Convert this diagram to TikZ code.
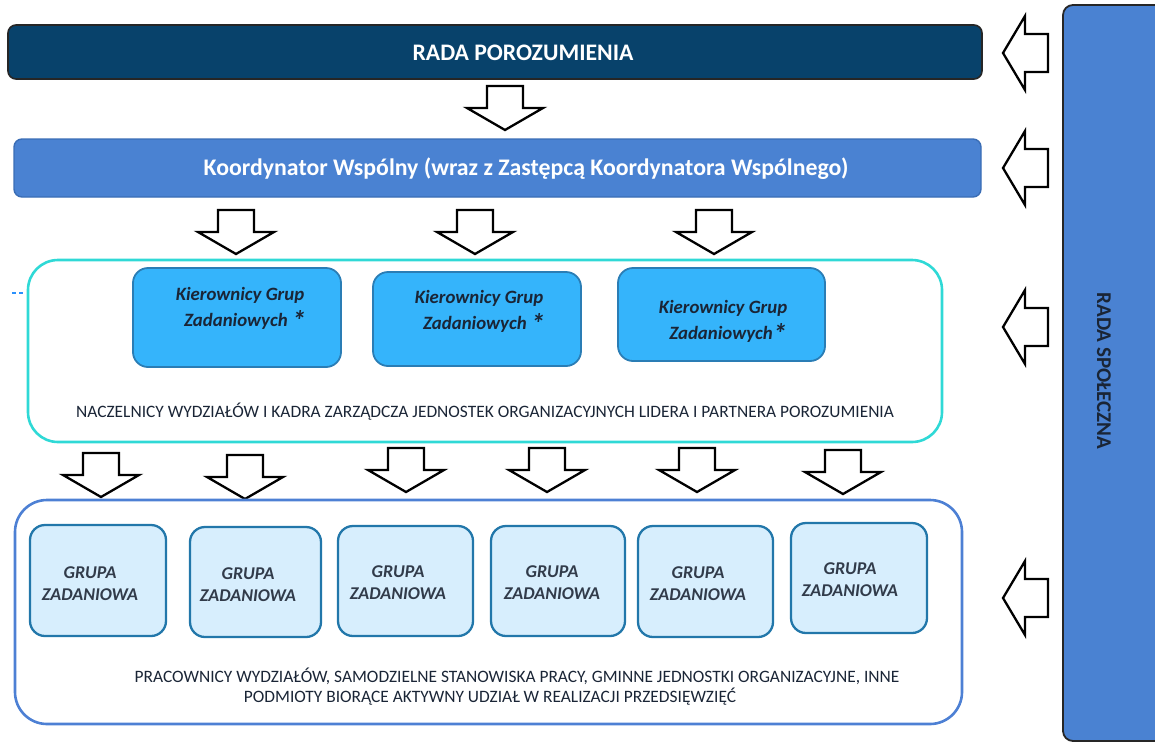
\documentclass[tikz,border=0pt]{standalone}
\usepackage{fontspec}
\setmainfont{Carlito}
\definecolor{navy}{HTML}{08426B}
\definecolor{midblue}{HTML}{4A82D2}
\definecolor{midblueedge}{HTML}{3A6DB5}
\definecolor{turq}{HTML}{2FD9D6}
\definecolor{kierfill}{HTML}{35B4FB}
\definecolor{kieredge}{HTML}{2A7DB5}
\definecolor{grfill}{HTML}{D7EEFD}
\definecolor{gredge}{HTML}{2277AA}
\definecolor{outerblue}{HTML}{4D80D4}
\definecolor{darktxt}{HTML}{1A2536}
\begin{document}
\begin{tikzpicture}[x=1pt,y=-1pt,
  arrowline/.style={draw=black, line width=2.3pt, fill=white, line join=miter},
  downarr/.pic={\draw[arrowline] (-18,0) -- (18,0) -- (18,22) -- (38,22) -- (0,44) -- (-38,22) -- (-18,22) -- cycle;},
  leftarr/.pic={\draw[arrowline] (23,-19) -- (23,19) -- (0,19) -- (0,37) -- (-22,0) -- (0,-37) -- (0,-19) -- cycle;},
  bigbox/.style={draw, rounded corners=8pt, inner sep=0pt},
  kierbox/.style={draw=kieredge, fill=kierfill, line width=1.8pt, rounded corners=15pt},
  grbox/.style={draw=gredge, fill=grfill, line width=2.3pt, rounded corners=15pt},
  kiertxt/.style={font=\fontsize{18.8}{26}\selectfont\bfseries\itshape, text=darktxt, align=center},
  grtxt/.style={font=\fontsize{18}{22}\selectfont\bfseries\itshape, text=darktxt!90, align=center},
  captxt/.style={font=\fontsize{17.4}{21}\selectfont, text=darktxt}
]
\useasboundingbox (0,0) rectangle (1155,742);

% right column
\draw[fill=midblue, draw=black!85, line width=1.8pt, rounded corners=10pt] (1063,5) rectangle (1175,741);
\node[rotate=-90, font=\fontsize{21}{24}\selectfont\bfseries, text=darktxt] (rs) at (1104,371) {RADA SPOŁECZNA};

% top boxes
\draw[bigbox, fill=navy, draw=black!85, line width=1.6pt] (8,25) rectangle (982,79);
\node[font=\fontsize{23.7}{26}\selectfont\bfseries, text=white] (rp) at (523,53) {RADA POROZUMIENIA};

\draw[bigbox, fill=midblue, draw=midblueedge, line width=1.4pt] (14,139) rectangle (981,197);
\node[font=\fontsize{23.8}{26}\selectfont\bfseries, text=white] (kw) at (526,169) {Koordynator Wspólny (wraz z Zastępcą Koordynatora Wspólnego)};

% left-pointing arrows
\pic at (1025,53) {leftarr};
\pic at (1025,168) {leftarr};
\pic at (1025,327) {leftarr};
\pic at (1025,598) {leftarr};

% down arrows
\pic at (505,86) {downarr};
\pic at (236,210) {downarr};
\pic at (475,210) {downarr};
\pic at (714,210) {downarr};

% cyan frame
\draw[draw=turq, line width=2.6pt, rounded corners=30pt] (28,260) rectangle (942,442);
\draw[draw=kierfill!80!blue, line width=1.2pt, dashed, dash pattern=on 4pt off 3pt] (12,293) -- (25,293);

\draw[kierbox] (133,268) rectangle (341,367);
\draw[kierbox] (373,272) rectangle (581,366);
\draw[kierbox] (618,268) rectangle (825,361);
\node[kiertxt] (k1) at (240,309) {Kierownicy Grup\\\hspace*{10pt}Zadaniowych {\fontsize{28}{28}\selectfont\raisebox{-4pt}{*}}};
\node[kiertxt] (k2) at (479,312) {Kierownicy Grup\\\hspace*{10pt}Zadaniowych {\fontsize{28}{28}\selectfont\raisebox{-4pt}{*}}};
\node[kiertxt] (k3) at (723,322) {Kierownicy Grup\\\hspace*{10pt}Zadaniowych{\fontsize{28}{28}\selectfont\raisebox{-4pt}{*}}};

\node[captxt] (nacz) at (485,412) {NACZELNICY WYDZIAŁÓW I KADRA ZARZĄDCZA JEDNOSTEK ORGANIZACYJNYCH LIDERA I PARTNERA POROZUMIENIA};

% down arrows to lower frame
\pic at (101,453) {downarr};
\pic at (245,455) {downarr};
\pic at (406,448) {downarr};
\pic at (547,448) {downarr};
\pic at (697,448) {downarr};
\pic at (843,450) {downarr};

% lower frame
\draw[draw=outerblue, line width=2.6pt, rounded corners=32pt] (15,500) rectangle (962,724);

\draw[grbox] (30,525) rectangle (166,636);
\draw[grbox] (190,527) rectangle (321,637);
\draw[grbox] (338,526) rectangle (473,636);
\draw[grbox] (491,526) rectangle (625,636);
\draw[grbox] (638,526) rectangle (773,637);
\draw[grbox] (791,523) rectangle (927,633);

\node[grtxt] (g1) at (90,584) {GRUPA\\ZADANIOWA};
\node[grtxt] (g2) at (248,585) {GRUPA\\ZADANIOWA};
\node[grtxt] (g3) at (398,583) {GRUPA\\ZADANIOWA};
\node[grtxt] (g4) at (552,583) {GRUPA\\ZADANIOWA};
\node[grtxt] (g5) at (698,584) {GRUPA\\ZADANIOWA};
\node[grtxt] (g6) at (850,580) {GRUPA\\ZADANIOWA};

\node[captxt] (pr1) at (517,676) {PRACOWNICY WYDZIAŁÓW, SAMODZIELNE STANOWISKA PRACY, GMINNE JEDNOSTKI ORGANIZACYJNE, INNE};
\node[captxt] (pr2) at (490,697) {PODMIOTY BIORĄCE AKTYWNY UDZIAŁ W REALIZACJI PRZEDSIĘWZIĘĆ};
\end{tikzpicture}
\end{document}
